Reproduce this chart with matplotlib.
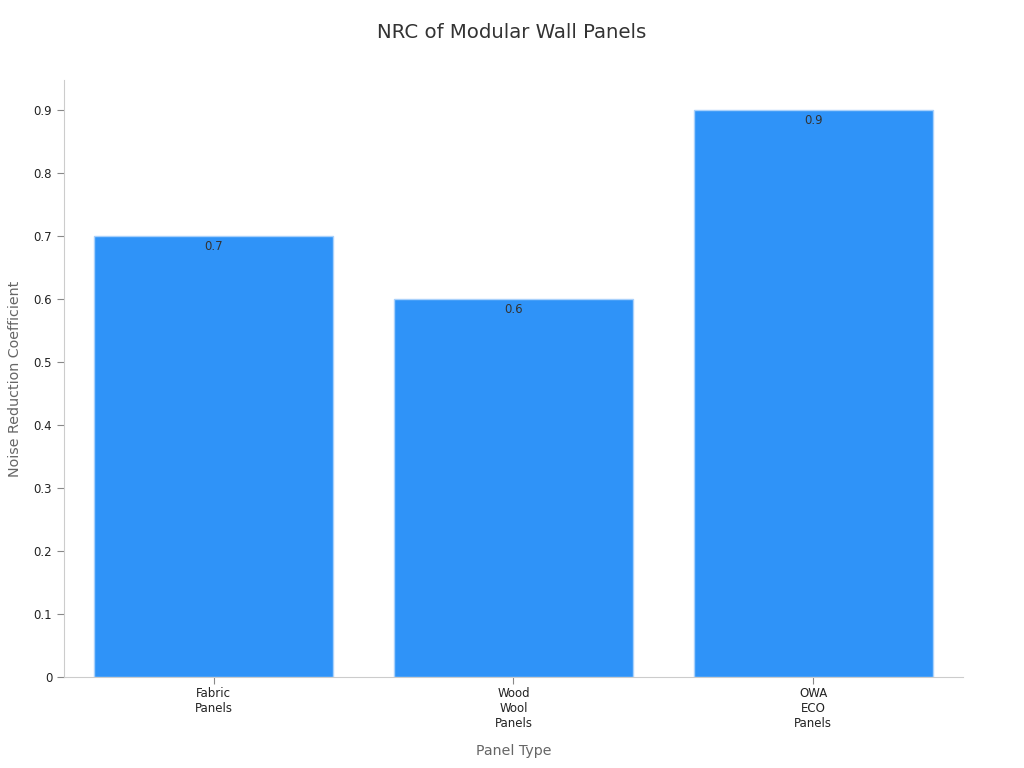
import matplotlib
matplotlib.use('Agg')
import matplotlib.pyplot as plt

plt.rcParams['font.family'] = ['DejaVu Sans']

categories = ['Fabric\nPanels', 'Wood\nWool\nPanels', 'OWA\nECO\nPanels']
nrc = [0.7, 0.6, 0.9]
yticks = [0, 0.1, 0.2, 0.3, 0.4, 0.5, 0.6, 0.7, 0.8, 0.9]
ytick_labels = ['0', '0.1', '0.2', '0.3', '0.4', '0.5', '0.6', '0.7', '0.8', '0.9']

fig = plt.figure(figsize=(10.24, 7.68), dpi=100)
ax = fig.add_axes([0.0625, 0.1185, 0.8779, 0.7773])

x = range(len(categories))
bars = ax.bar(x, nrc, width=0.797, color='#2f93f8', edgecolor='#a9d1fb', linewidth=1)

for b, v in zip(bars, nrc):
    ax.text(b.get_x() + b.get_width() / 2, v - 0.007, str(v), ha='center', va='top',
            fontsize=8.5, color='#333333')

ax.set_xlim(-0.5, 2.5)
ax.set_ylim(0, 0.9476)
ax.set_xticks(list(x))
ax.set_xticklabels(categories, fontsize=8.5, color='#222222')
ax.set_yticks(yticks)
ax.set_yticklabels(ytick_labels, fontsize=8.5, color='#222222')
ax.tick_params(axis='x', pad=2)

for s in ['top', 'right']:
    ax.spines[s].set_visible(False)
for s in ['left', 'bottom']:
    ax.spines[s].set_color('#cccccc')
ax.tick_params(axis='both', color='#888888', length=5)

ax.set_xlabel('Panel Type', fontsize=10.2, color='#666666', labelpad=10)
ax.set_ylabel('Noise Reduction Coefficient', fontsize=10.3, color='#666666', labelpad=8)
fig.suptitle('NRC of Modular Wall Panels', fontsize=14.2, color='#333333', y=0.97)

fig.savefig('out.png', dpi=100)
